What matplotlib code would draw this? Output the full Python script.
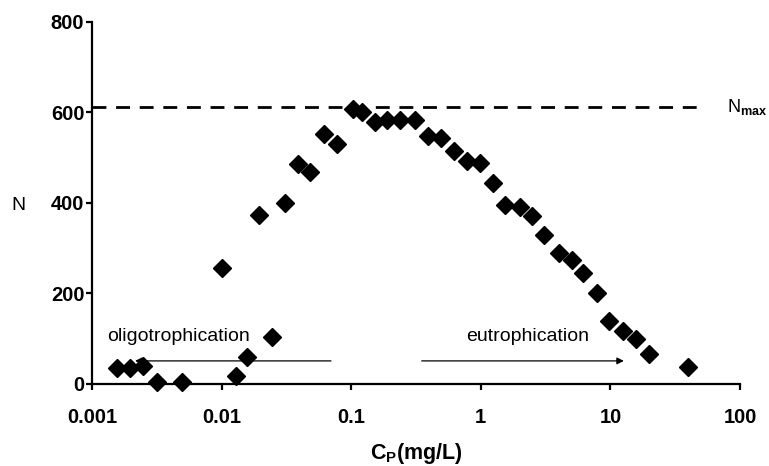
import numpy as np
import matplotlib
matplotlib.use('Agg')
import matplotlib.pyplot as plt

plt.rcParams['font.family'] = ['Liberation Sans', 'DejaVu Sans']
plt.rcParams['mathtext.fontset'] = 'custom'
plt.rcParams['mathtext.rm'] = 'Liberation Sans'
plt.rcParams['mathtext.bf'] = 'Liberation Sans:bold'

# phosphorus concentration (mg/L) and N
cp = [0.00156, 0.00196, 0.00248, 0.00318, 0.00494, 0.0100, 0.0129, 0.0157,
      0.0195, 0.0245, 0.0308, 0.0389, 0.0481, 0.0617, 0.0776, 0.104, 0.121,
      0.153, 0.189, 0.24, 0.31, 0.39, 0.49, 0.62, 0.78, 0.99, 1.24, 1.54,
      2.0, 2.48, 3.07, 4.0, 5.05, 6.2, 7.9, 9.8, 12.5, 15.7, 19.9, 39.7]
n = [35, 35, 40, 5, 5, 256, 18, 60, 373, 104, 400, 486, 469, 552, 530, 607,
     600, 580, 583, 583, 583, 548, 544, 515, 493, 489, 444, 396, 391, 371,
     329, 289, 275, 245, 201, 139, 117, 99, 66, 38]
n_max = 612

xticks = [0.001, 0.01, 0.1, 1, 10, 100]
xticklabels = ['0.001', '0.01', '0.1', '1', '10', '100']
yticks = [0, 200, 400, 600, 800]


def make_figure():
    fig = plt.figure(figsize=(7.69, 4.66), dpi=100)
    ax = fig.add_axes([0.1196, 0.176, 0.8427, 0.7768])

    ax.plot(cp, n, 'kD', ms=9.5, zorder=3, clip_on=False)
    ax.plot([0.001, 54], [n_max, n_max], color='k', lw=2, ls=(0, (5, 3.5)))

    # arrows
    ax.annotate('', xy=(0.00215, 51), xytext=(0.0698, 51),
                arrowprops=dict(arrowstyle='-|>', color='k', lw=0.9,
                                mutation_scale=10, shrinkA=0, shrinkB=0))
    ax.annotate('', xy=(12.7, 51), xytext=(0.35, 51),
                arrowprops=dict(arrowstyle='-|>', color='k', lw=0.9,
                                mutation_scale=10, shrinkA=0, shrinkB=0))
    ax.text(0.0013, 104, 'oligotrophication', fontsize=14, va='center')
    ax.text(0.77, 104, 'eutrophication', fontsize=14, va='center')
    ax.text(80, n_max, r'$\mathrm{N}_{\mathbf{max}}$', fontsize=13,
            va='center', clip_on=False)

    ax.set_xscale('log')
    ax.set_xlim(0.001, 100)
    ax.set_ylim(0, 800)
    ax.set_xticks(xticks)
    ax.set_xticklabels(xticklabels)
    ax.minorticks_off()
    ax.set_yticks(yticks)

    for s in ['top', 'right']:
        ax.spines[s].set_visible(False)
    for s in ['left', 'bottom']:
        ax.spines[s].set_linewidth(1.6)
    ax.tick_params(axis='both', direction='out', width=1.6, length=4.5,
                   labelsize=14.5)
    ax.tick_params(axis='x', pad=13)
    ax.tick_params(axis='y', pad=1)
    for lab in ax.get_xticklabels() + ax.get_yticklabels():
        lab.set_fontweight('bold')

    fig.text(18 / 769, 1 - 205 / 466, 'N', fontsize=14, ha='center',
             va='center')
    ax.set_xlabel(r'$\mathbf{C_P}$' + '(mg/L)', fontsize=15.5,
                  fontweight='bold', labelpad=10)
    return fig


if __name__ == "__main__":
    fig = make_figure()
    fig.savefig('out.png', dpi=100)
